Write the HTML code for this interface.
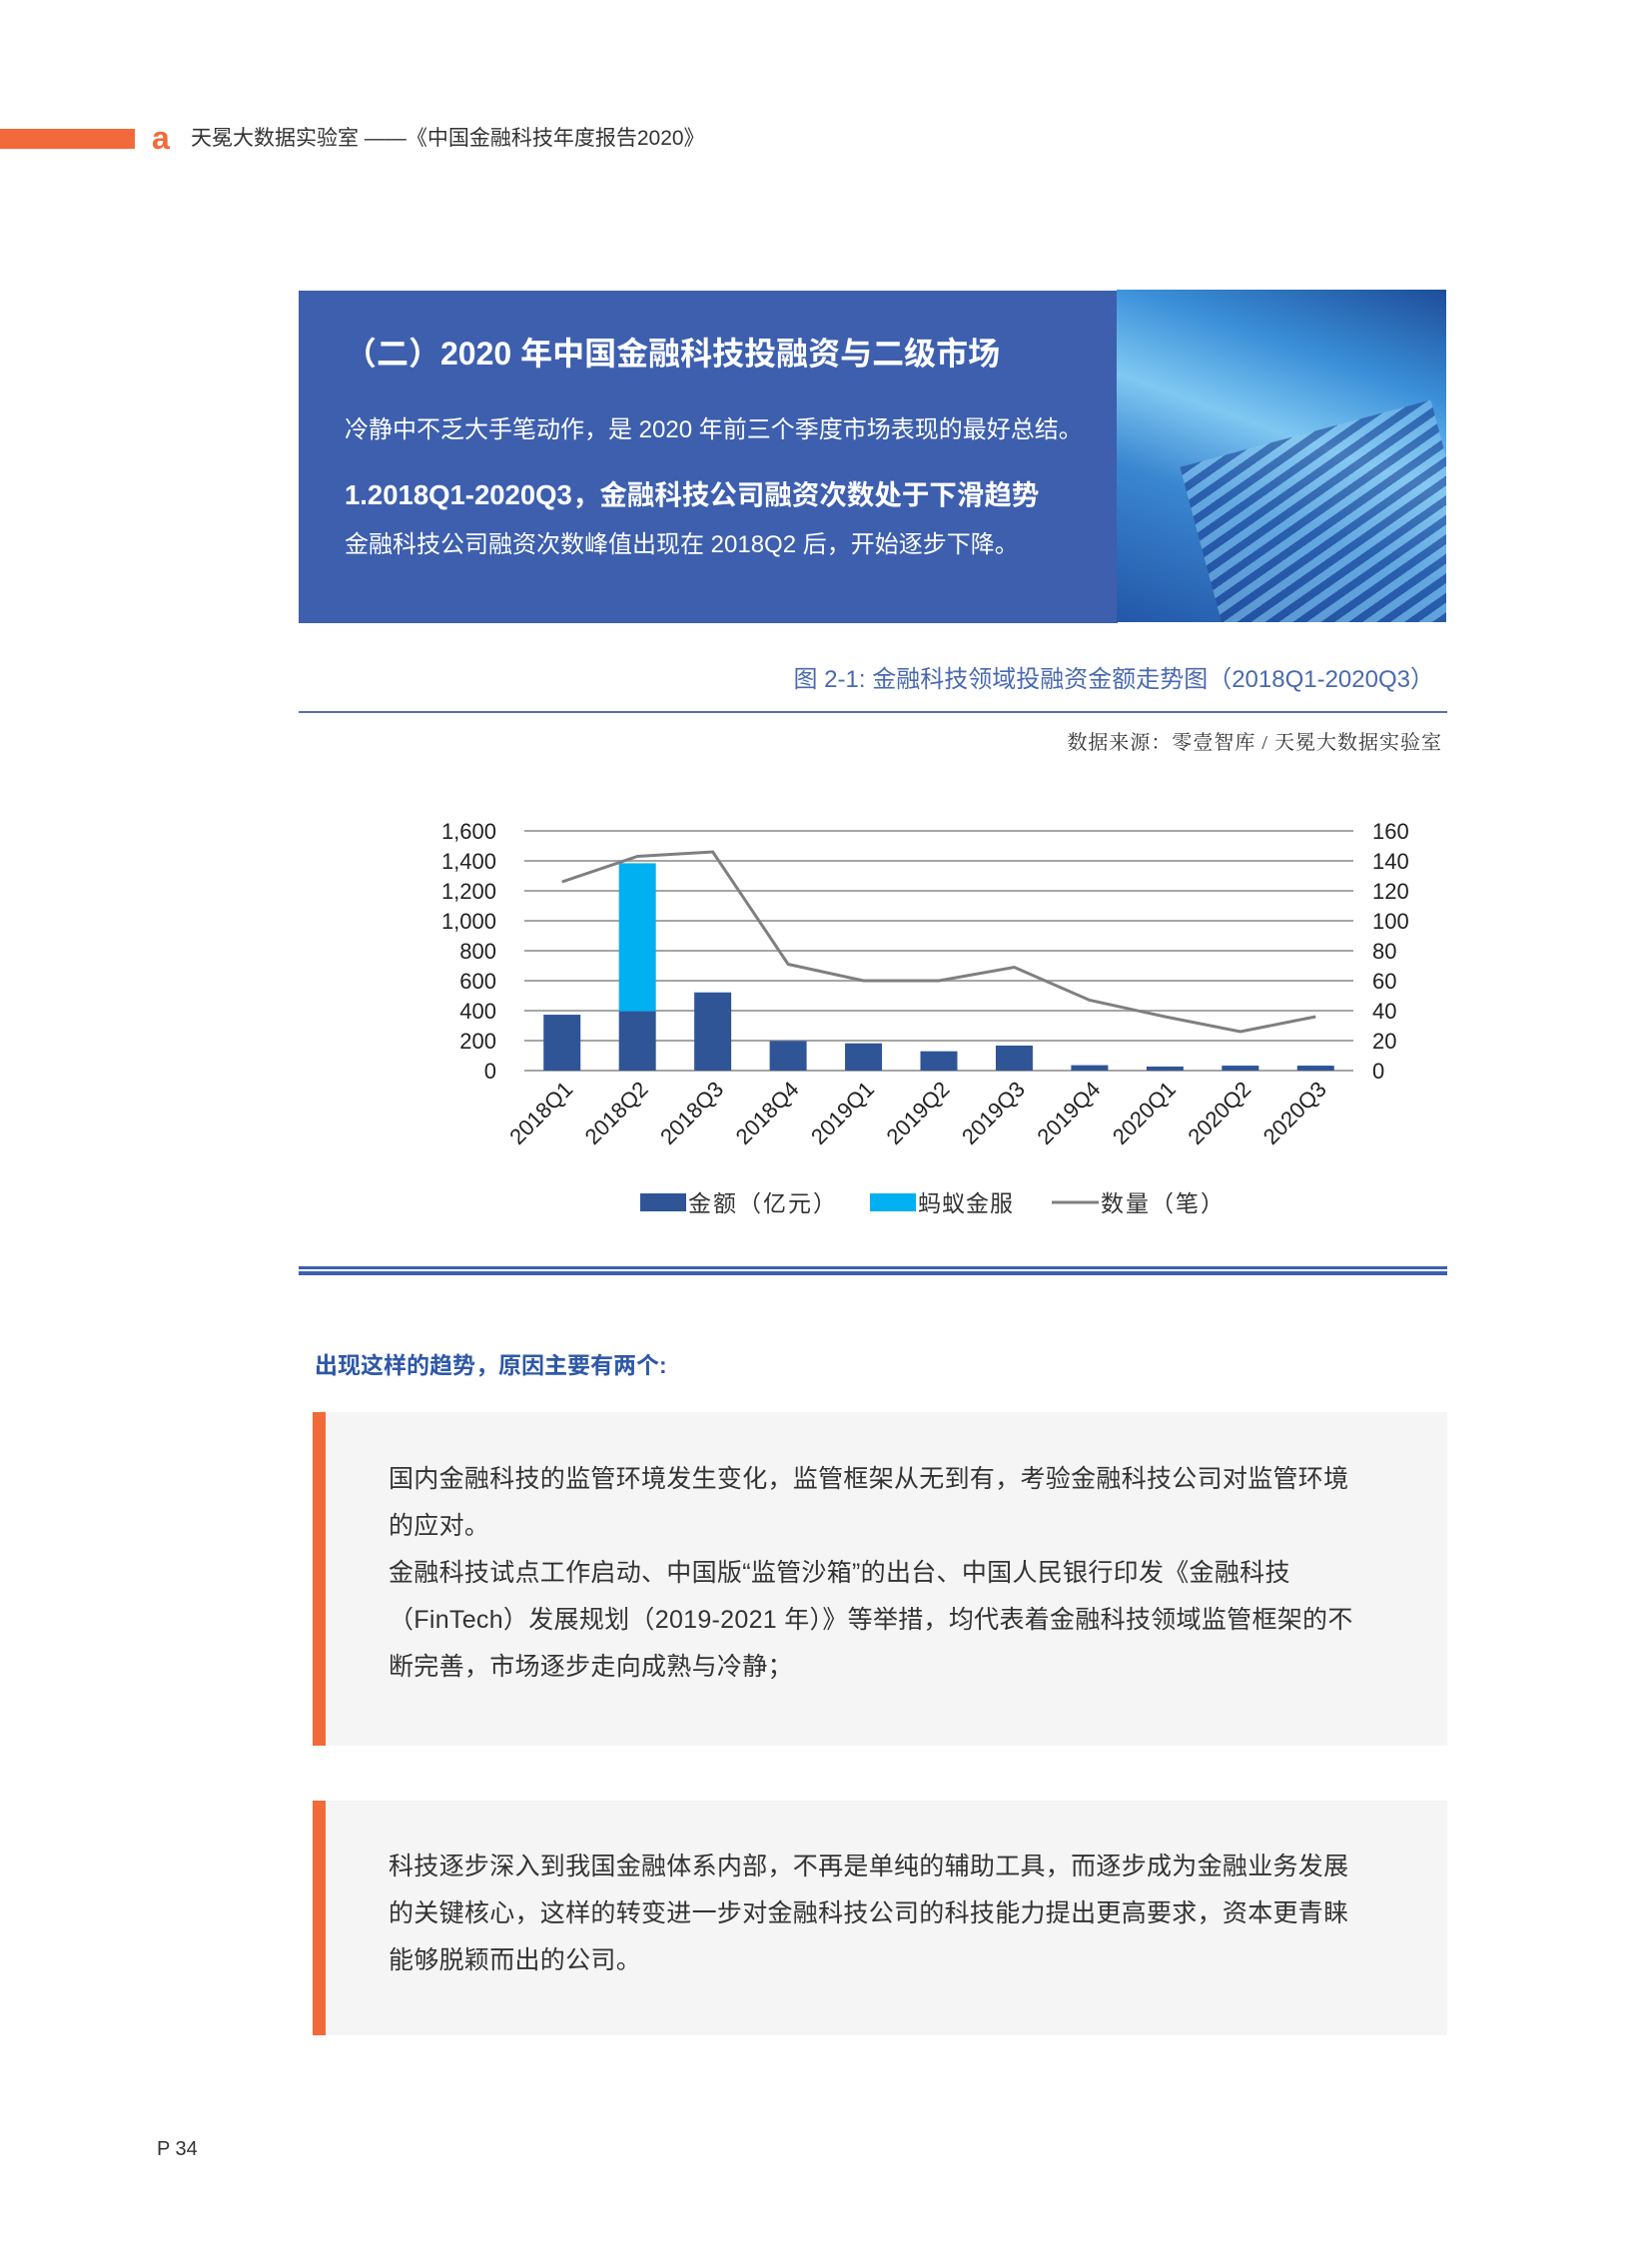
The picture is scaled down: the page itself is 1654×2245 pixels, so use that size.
<!DOCTYPE html>
<html><head><meta charset="utf-8">
<style>
body{margin:0;width:1654px;height:2245px;background:#fff;position:relative;overflow:hidden;font-family:"Liberation Sans","Noto Sans CJK SC",sans-serif;}
.abs{position:absolute;}
.p{color:#333;font-size:25px;line-height:47px;letter-spacing:0.3px;}
</style></head><body>
<div class="abs" style="left:0;top:129px;width:135px;height:20px;background:#f26a3a;"></div>
<div class="abs" style="left:152px;top:118px;font-size:32px;font-weight:bold;color:#f26a3a;line-height:40px;">a</div>
<div class="abs" style="left:191px;top:126px;font-size:21px;color:#333;line-height:26px;">天冕大数据实验室 ——《中国金融科技年度报告2020》</div>

<div class="abs" style="left:299px;top:291px;width:820px;height:333px;background:#3d5fae;"></div>
<div class="abs" style="left:1118px;top:290px;width:330px;height:333px;background:linear-gradient(200deg,#1e4d9a 0%,#3a8fd8 25%,#7fc8f2 45%,#3a86d0 65%,#2357a8 100%);overflow:hidden;">
<div style="position:absolute;left:90px;top:140px;width:260px;height:240px;background:repeating-linear-gradient(160deg,rgba(30,70,150,.6) 0 8px,rgba(140,200,240,.5) 8px 16px);transform:rotate(-15deg);"></div>
</div>
<div class="abs" style="left:345px;top:334px;font-size:32px;font-weight:bold;color:#fff;line-height:40px;">（二）2020 年中国金融科技投融资与二级市场</div>
<div class="abs" style="left:345px;top:416px;font-size:24px;color:#fff;line-height:30px;">冷静中不乏大手笔动作，是 2020 年前三个季度市场表现的最好总结。</div>
<div class="abs" style="left:345px;top:479px;font-size:27.5px;font-weight:bold;color:#fff;line-height:34px;">1.2018Q1-2020Q3，金融科技公司融资次数处于下滑趋势</div>
<div class="abs" style="left:345px;top:531px;font-size:24px;color:#fff;line-height:30px;">金融科技公司融资次数峰值出现在 2018Q2 后，开始逐步下降。</div>

<div class="abs" style="right:218px;top:665px;font-size:24px;color:#4a69b0;line-height:32px;">图 2-1: 金融科技领域投融资金额走势图（2018Q1-2020Q3）</div>
<div class="abs" style="left:299px;top:712px;width:1150px;height:2px;background:#5570b0;"></div>
<div class="abs" style="right:210px;top:730px;font-size:20px;color:#333;font-family:'Liberation Serif','Noto Serif CJK SC',serif;line-height:28px;letter-spacing:1px;">数据来源：零壹智库 / 天冕大数据实验室</div>

<svg class="abs" style="left:0;top:0" width="1654" height="1240" id="chart"></svg>

<div class="abs" style="left:299px;top:1268px;width:1150px;height:3px;background:#3d5fae;"></div>
<div class="abs" style="left:299px;top:1273px;width:1150px;height:4px;background:#3d5fae;"></div>

<div class="abs" style="left:315px;top:1352px;font-size:23px;font-weight:bold;color:#2e58a8;line-height:30px;">出现这样的趋势，原因主要有两个:</div>

<div class="abs" style="left:313px;top:1414px;width:1136px;height:334px;background:#f5f5f5;border-left:13px solid #f26a3a;box-sizing:border-box;">
<div class="p" style="position:absolute;left:63px;top:44px;width:1000px;">国内金融科技的监管环境发生变化，监管框架从无到有，考验金融科技公司对监管环境<br>的应对。<br>金融科技试点工作启动、中国版“监管沙箱”的出台、中国人民银行印发《金融科技<br>（FinTech）发展规划（2019-2021 年）》等举措，均代表着金融科技领域监管框架的不<br>断完善，市场逐步走向成熟与冷静；</div></div>

<div class="abs" style="left:313px;top:1803px;width:1136px;height:235px;background:#f5f5f5;border-left:13px solid #f26a3a;box-sizing:border-box;">
<div class="p" style="position:absolute;left:63px;top:43px;width:1000px;">科技逐步深入到我国金融体系内部，不再是单纯的辅助工具，而逐步成为金融业务发展<br>的关键核心，这样的转变进一步对金融科技公司的科技能力提出更高要求，资本更青睐<br>能够脱颖而出的公司。</div></div>

<div class="abs" style="left:157px;top:2141px;font-size:20px;color:#333;">P 34</div>

<script>
const categories=["2018Q1","2018Q2","2018Q3","2018Q4","2019Q1","2019Q2","2019Q3","2019Q4","2020Q1","2020Q2","2020Q3"];
const amounts=[373,396,522,198,182,129,167,36,27,33,33];
const antAmounts=[0,988,0,0,0,0,0,0,0,0,0];
const counts=[126,143,146,71,60,60,69,47,36,26,36];
const leftTicks=[0,200,400,600,800,1000,1200,1400,1600];
const rightTicks=[0,20,40,60,80,100,120,140,160];
const svg=document.getElementById('chart');
const NS='http://www.w3.org/2000/svg';
const X0=525,X1=1355,Y0=1072,Y1=832;
const step=(X1-X0)/categories.length;
const xc=i=>X0+step*(i+0.5);
const yL=v=>Y0-(v/1600)*(Y0-Y1);
const yR=v=>Y0-(v/160)*(Y0-Y1);
function mk(t,a){const e=document.createElementNS(NS,t);for(const k in a)e.setAttribute(k,a[k]);svg.appendChild(e);return e;}
const F='"Liberation Sans","Noto Sans CJK SC",sans-serif';
leftTicks.forEach((v,i)=>{
 const g=mk('line',{x1:X0,x2:X1,y1:yL(v),y2:yL(v),stroke:'#a6a6a6','stroke-width':2});
 
 
 const t=mk('text',{x:497,y:yL(v)+8,'text-anchor':'end','font-size':22,fill:'#222','font-family':F});
 t.textContent=v.toLocaleString('en-US');
 
 
});
rightTicks.forEach(v=>{
 const t=mk('text',{x:1374,y:yR(v)+8,'font-size':22,fill:'#222','font-family':F});
 t.textContent=v;
 
 
});
const bw=37;
categories.forEach((c,i)=>{
 const b=mk('rect',{x:xc(i)-bw/2,y:yL(amounts[i]),width:bw,height:Y0-yL(amounts[i]),fill:'#2f5597'});
 
 
 if(antAmounts[i]>0){
  const a=mk('rect',{x:xc(i)-bw/2,y:yL(amounts[i]+antAmounts[i]),width:bw,height:yL(amounts[i])-yL(amounts[i]+antAmounts[i]),fill:'#00b0f0'});
  
  
 }
 const t=mk('text',{x:xc(i)+12,y:1092,'text-anchor':'end','font-size':22,fill:'#222','font-family':F,transform:`rotate(-45 ${xc(i)+12} 1092)`});
 t.textContent=c;
 
 
});
const pl=mk('polyline',{points:counts.map((v,i)=>xc(i)+','+yR(v)).join(' '),fill:'none',stroke:'#7f7f7f','stroke-width':3});


const l1=mk('rect',{x:641,y:1195,width:46,height:18,fill:'#2f5597'});


const t1=mk('text',{x:689,y:1213,'font-size':23,fill:'#333','font-family':F,'letter-spacing':2});t1.textContent='金额（亿元）';


const l2=mk('rect',{x:871,y:1195,width:46,height:18,fill:'#00b0f0'});


const t2=mk('text',{x:919,y:1213,'font-size':23,fill:'#333','font-family':F,'letter-spacing':1});t2.textContent='蚂蚁金服';


const l3=mk('line',{x1:1053,x2:1100,y1:1204,y2:1204,stroke:'#7f7f7f','stroke-width':3});


const t3=mk('text',{x:1102,y:1213,'font-size':23,fill:'#333','font-family':F,'letter-spacing':2});t3.textContent='数量（笔）';


</script>
</body></html>
